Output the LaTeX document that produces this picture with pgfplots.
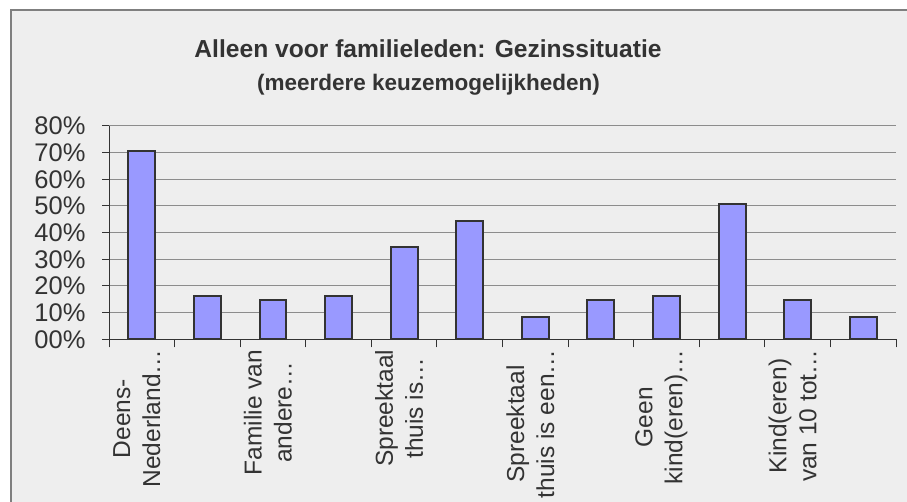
\documentclass[border=0pt]{standalone}
\usepackage{pgfplots}
\pgfplotsset{compat=1.18}
\usepackage{fontspec}
\setmainfont{Liberation Sans}
\definecolor{bg}{HTML}{EEEEEE}
\definecolor{txt}{HTML}{333333}
\definecolor{barfill}{HTML}{9999FF}
\definecolor{gridc}{HTML}{8C8C8C}
\definecolor{framec}{HTML}{7F7F7F}
\begin{document}
\begin{tikzpicture}[x=1bp,y=1bp]
\path[use as bounding box] (0,0) rectangle (907,502);
\fill[white] (0,0) rectangle (907,502);
\fill[bg] (11,0) rectangle (907,492);
\draw[framec, line width=2bp] (11,0) -- (11,492) -- (907,492);
\node[txt, anchor=base, font=\bfseries\fontsize{24.6bp}{28bp}\selectfont] at (428,444.3) {Alleen voor familieleden: Gezinssituatie};
\node[txt, anchor=base, font=\bfseries\fontsize{22.5bp}{26bp}\selectfont] at (428.5,411) {(meerdere keuzemogelijkheden)};
\begin{axis}[
  at={(109bp,162.7bp)}, anchor=south west,
  width=787bp, height=213.3bp, scale only axis,
  xmin=-0.5, xmax=11.5, ymin=0, ymax=80,
  axis lines*=left,
  axis line style={draw=txt, line width=1bp},
  ytick={0,10,20,30,40,50,60,70,80},
  yticklabels={00\%,10\%,20\%,30\%,40\%,50\%,60\%,70\%,80\%},
  ymajorgrids, grid style={gridc, line width=1bp},
  xtick={0,1,2,3,4,5,6,7,8,9,10,11},
  xticklabels={{Deens-\\Nederland…},{},{Familie van\\andere…},{},{Spreektaal\\thuis is…},{},{Spreektaal\\thuis is een…},{},{Geen\\kind(eren)…},{},{Kind(eren)\\van 10 tot…},{}},
  minor xtick={-0.5,0.5,...,11.5},
  tick align=outside, major tick length=7bp, minor tick length=8bp,
  tick style={txt, line width=1bp},
  major x tick style={draw=none},
  yticklabel style={txt, font=\fontsize{25.5bp}{30bp}\selectfont, xshift=-13bp},
  xticklabel style={txt, font=\fontsize{24.5bp}{30bp}\selectfont, rotate=90, anchor=east, align=center, yshift=5bp},
  ybar, bar width=0.41,
]
\addplot[fill=barfill, draw=txt, line width=2bp] coordinates {
(0,70.49) (1,16.39) (2,14.75) (3,16.39) (4,34.43) (5,44.26)
(6,8.20) (7,14.75) (8,16.39) (9,50.82) (10,14.75) (11,8.20)};
\end{axis}
\end{tikzpicture}
\end{document}
